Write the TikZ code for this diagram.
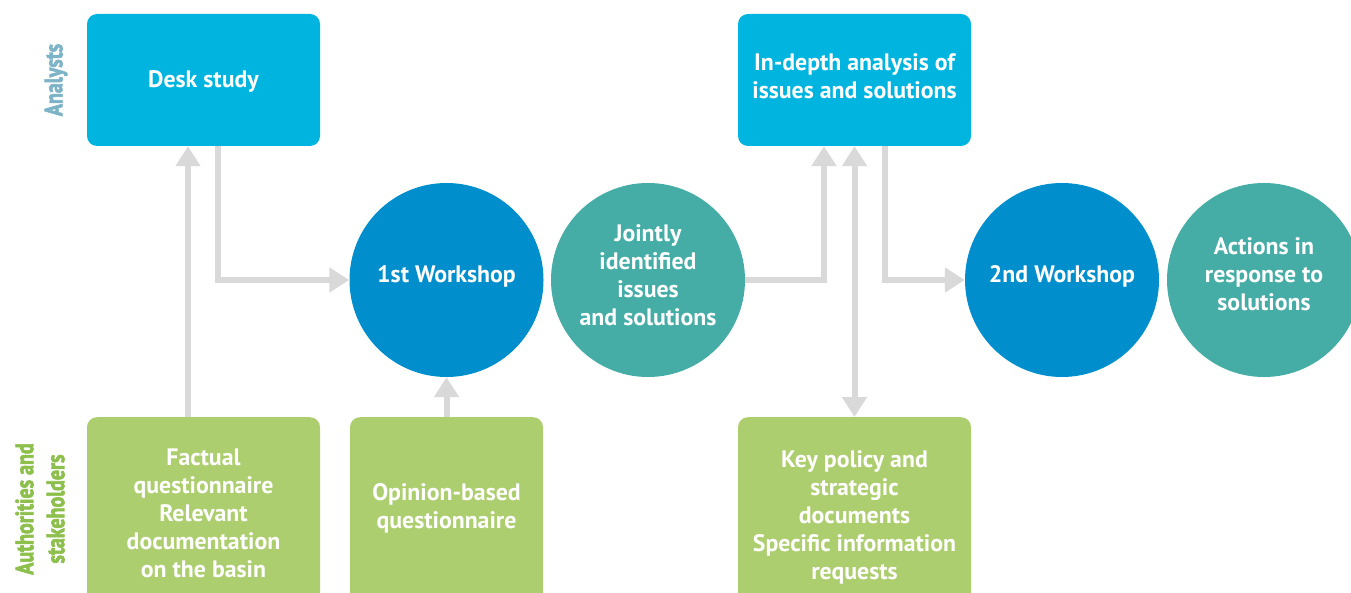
\documentclass[tikz,border=0pt]{standalone}
\usepackage{fontspec}
\setmainfont{PT Sans}
\usetikzlibrary{arrows.meta}
\definecolor{boxcyan}{HTML}{00B4E0}
\definecolor{wsblue}{HTML}{008FCC}
\definecolor{tealc}{HTML}{45ADA6}
\definecolor{greenc}{HTML}{ADCE6E}
\definecolor{arrgray}{HTML}{D9D9D9}
\definecolor{analystc}{HTML}{7DB3C6}
\definecolor{authc}{HTML}{8DBF4D}
\tikzset{
  cyanbox/.style={fill=boxcyan, draw=none, rounded corners=10pt, minimum width=233pt, minimum height=132pt, inner sep=0pt},
  greenbox/.style={fill=greenc, draw=none, rounded corners=10pt, minimum height=200pt, inner sep=0pt, anchor=north},
  wscircle/.style={circle, fill=wsblue, draw=none, minimum size=194pt, inner sep=0pt},
  tcircle/.style={circle, fill=tealc, draw=none, minimum size=194pt, inner sep=0pt},
  txt/.style={text=white, font=\bfseries\fontsize{23.8}{28}\selectfont, align=center, inner sep=0pt},
  arr/.style={draw=arrgray, line width=6pt, -{Triangle[length=20pt,width=24pt]}},
  arrboth/.style={draw=arrgray, line width=6pt, {Triangle[length=20pt,width=24pt]}-{Triangle[length=20pt,width=24pt]}},
  sidelab/.style={font=\bfseries\addfontfeatures{FakeStretch=0.8,FakeBold=2.5}\fontsize{25}{31}\selectfont, align=center, rotate=90, inner sep=0pt}
}
\begin{document}
\begin{tikzpicture}[x=1pt,y=-1pt]
\useasboundingbox (0,0) rectangle (1351,593);
\clip (0,0) rectangle (1351,593);
% boxes
\node[cyanbox] (desk) at (203.5,80) {};
\node[txt] (deskt) at (203.5,81.5) {Desk study};
\node[cyanbox] (depth) at (854.5,80) {};
\node[txt] (deptht) at (854.5,76.5) {In-depth analysis of\\issues and solutions};
\node[greenbox, minimum width=233pt] (fact) at (203.5,417) {};
\node[txt] (factt) at (203.5,513.5) {Factual\\questionnaire\\Relevant\\documentation\\on the basin};
\node[greenbox, minimum width=193pt] (opin) at (446.5,417) {};
\node[txt] (opint) at (446.5,508.5) {Opinion-based\\questionnaire};
\node[greenbox, minimum width=233pt] (key) at (854.5,417) {};
\node[txt] (keyt) at (854.5,517.5) {Key policy and\\strategic\\documents\\Specific information\\requests};
% circles
\node[wscircle] (w1) at (446.5,280) {};
\node[txt] (w1t) at (446.5,276) {1st Workshop};
\node[tcircle] (joint) at (648,280) {};
\node[txt] (jointt) at (648,275.5) {Jointly\\identified\\issues\\and solutions};
\node[wscircle] (w2) at (1062,280) {};
\node[txt] (w2t) at (1062,276) {2nd Workshop};
\node[tcircle] (act) at (1264,280) {};
\node[txt] (actt) at (1264,274.5) {Actions in\\response to\\solutions};
% side labels
\node[sidelab, text=analystc] (lab1) at (56,80) {Analysts};
\node[sidelab, text=authc] (lab2) at (40,509) {Authorities and\\stakeholders};
% connectors
\draw[arr] ([xshift=-15.5pt]fact.north) -- ([xshift=-15.5pt]desk.south);
\draw[arr] ([xshift=14.5pt]desk.south) |- (w1.west);
\draw[arr] (opin.north) -- (w1.south);
\draw[arr] (joint.east) -| ([xshift=-30.5pt]depth.south);
\draw[arrboth] (depth.south) -- (key.north);
\draw[arr] ([xshift=30.5pt]depth.south) |- (w2.west);
\end{tikzpicture}
\end{document}
